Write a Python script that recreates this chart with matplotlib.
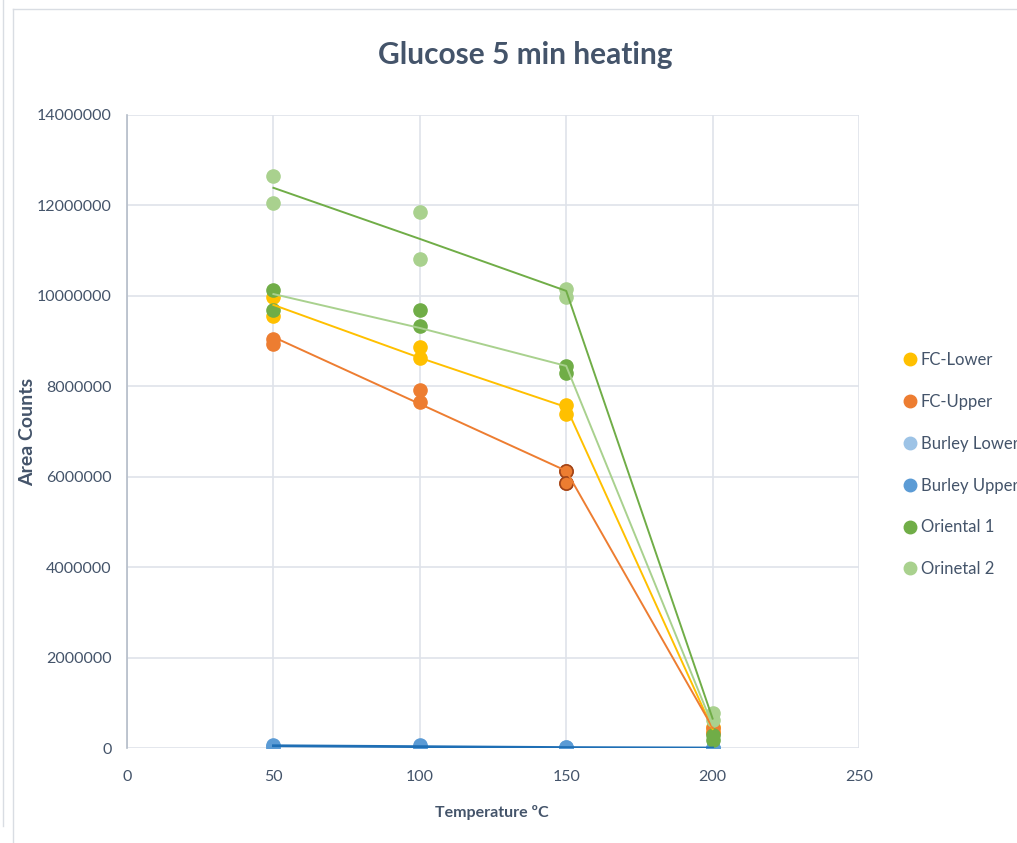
import matplotlib
matplotlib.use("Agg")
import matplotlib.pyplot as plt
from matplotlib.lines import Line2D

plt.rcParams['font.family'] = ['Lato', 'DejaVu Sans']

temps = [50, 100, 150, 200]
series_names = ["FC-Lower", "FC-Upper", "Burley Lower", "Burley Upper", "Oriental 1", "Orinetal 2"]

# replicate measurements (two per temperature)
fc_lower_a = [9970000, 8870000, 7590000, 460000]
fc_lower_b = [9550000, 8630000, 7390000, 350000]
fc_upper_a = [9050000, 7920000, 6130000, 440000]
fc_upper_b = [8940000, 7650000, 5860000, 330000]
burley_lower_a = [40000, 30000, 20000, 10000]
burley_lower_b = [20000, 20000, 10000, 0]
burley_upper_a = [70000, 60000, 30000, 10000]
burley_upper_b = [30000, 30000, 10000, 0]
oriental1_a = [10130000, 9690000, 8450000, 290000]
oriental1_b = [9690000, 9330000, 8290000, 180000]
oriental2_a = [12650000, 11850000, 10150000, 770000]
oriental2_b = [12050000, 10820000, 9970000, 620000]

# connecting lines
fc_lower_line = [9800000, 8630000, 7540000, 420000]
fc_upper_line = [9090000, 7610000, 6130000, 450000]
burley_line = [50000, 30000, 10000, 0]
oriental1_line = [10040000, 9290000, 8450000, 500000]
oriental2_line = [12390000, 11260000, 10110000, 650000]

colors = {"FC-Lower": "#FFC000", "FC-Upper": "#ED7D31", "Burley Lower": "#9DC3E6",
          "Burley Upper": "#5B9BD5", "Oriental 1": "#70AD47", "Orinetal 2": "#A9D18E"}

fig = plt.figure(figsize=(10.17, 8.43), dpi=100)
ax = fig.add_axes([127/1017, 95/843, (859-127)/1017, (748-115)/843])

point_sets = [("FC-Lower", fc_lower_a, fc_lower_b), ("FC-Upper", fc_upper_a, fc_upper_b),
              ("Burley Lower", burley_lower_a, burley_lower_b), ("Burley Upper", burley_upper_a, burley_upper_b),
              ("Oriental 1", oriental1_a, oriental1_b), ("Orinetal 2", oriental2_a, oriental2_b)]
for i, (name, a, b) in enumerate(point_sets):
    for arr in (a, b):
        ax.plot(temps, arr, ls='none', marker='o', ms=9.5, color=colors[name], mec=colors[name], zorder=3 + i * 0.1)

# darker outline at one FC-Upper cluster
ax.plot([temps[2]] * 2, [fc_upper_a[2], fc_upper_b[2]], ls='none', marker='o', ms=9.5,
        color=colors["FC-Upper"], mec="#A0441A", mew=1.2, zorder=3.15)

lw = 1.4
ax.plot(temps, fc_lower_line, color="#FFC000", lw=lw, zorder=4)
ax.plot(temps, fc_upper_line, color="#ED7D31", lw=lw, zorder=4)
ax.plot(temps, oriental1_line, color="#A9D18E", lw=lw, zorder=4)
ax.plot(temps, oriental2_line, color="#70AD47", lw=lw, zorder=4)
ax.plot(temps, burley_line, color="#1F6FB5", lw=2.0, zorder=4)

ax.set_xlim(0, 250)
ax.set_ylim(0, 14000000)
ax.set_xticks([0, 50, 100, 150, 200, 250])
ax.set_yticks(range(0, 14000001, 2000000))
ax.set_yticklabels([str(v) for v in range(0, 14000001, 2000000)])
ax.grid(True, color="#DFE3EA", lw=1.2, zorder=0)
ax.set_axisbelow(True)
for s in ['top', 'right', 'bottom']:
    ax.spines[s].set_visible(False)
ax.spines['left'].set_color("#B4BCC8")
ax.spines['left'].set_linewidth(1.2)
ax.tick_params(length=0, labelsize=11.5, colors="#44546A")
ax.tick_params(axis='y', pad=11)
ax.tick_params(axis='x', pad=16)

fig.text(525/1017, 1 - 55/843, "Glucose 5 min heating", ha='center', va='center',
         fontsize=21.5, fontweight='bold', color="#44546A")
fig.text(28/1017, 1 - 432/843, "Area Counts", rotation=90, ha='center', va='center',
         fontsize=14, fontweight='bold', color="#44546A")
fig.text(492/1017, 1 - 812/843, "Temperature ºC", ha='center', va='center',
         fontsize=11.5, fontweight='bold', color="#44546A")

handles = [Line2D([], [], ls='none', marker='o', ms=9, color=colors[n]) for n in series_names]
leg = fig.legend(handles, series_names, loc='upper left', bbox_to_anchor=(900/1017, 1 - 352/843),
                 frameon=False, fontsize=12, labelspacing=1.55, handletextpad=0.05,
                 handlelength=1.2, borderaxespad=0, borderpad=0)
for t in leg.get_texts():
    t.set_color("#44546A")

# outer frame lines
fig.add_artist(Line2D([13/1017, 13/1017], [0, 1 - 9/843], color="#D9DDE3", lw=1, transform=fig.transFigure))
fig.add_artist(Line2D([13/1017, 1], [1 - 9/843, 1 - 9/843], color="#D9DDE3", lw=1, transform=fig.transFigure))
fig.add_artist(Line2D([3/1017, 3/1017], [1 - 826/843, 1], color="#D9DDE3", lw=1, transform=fig.transFigure))

fig.savefig("out.png", dpi=100, facecolor="white")
